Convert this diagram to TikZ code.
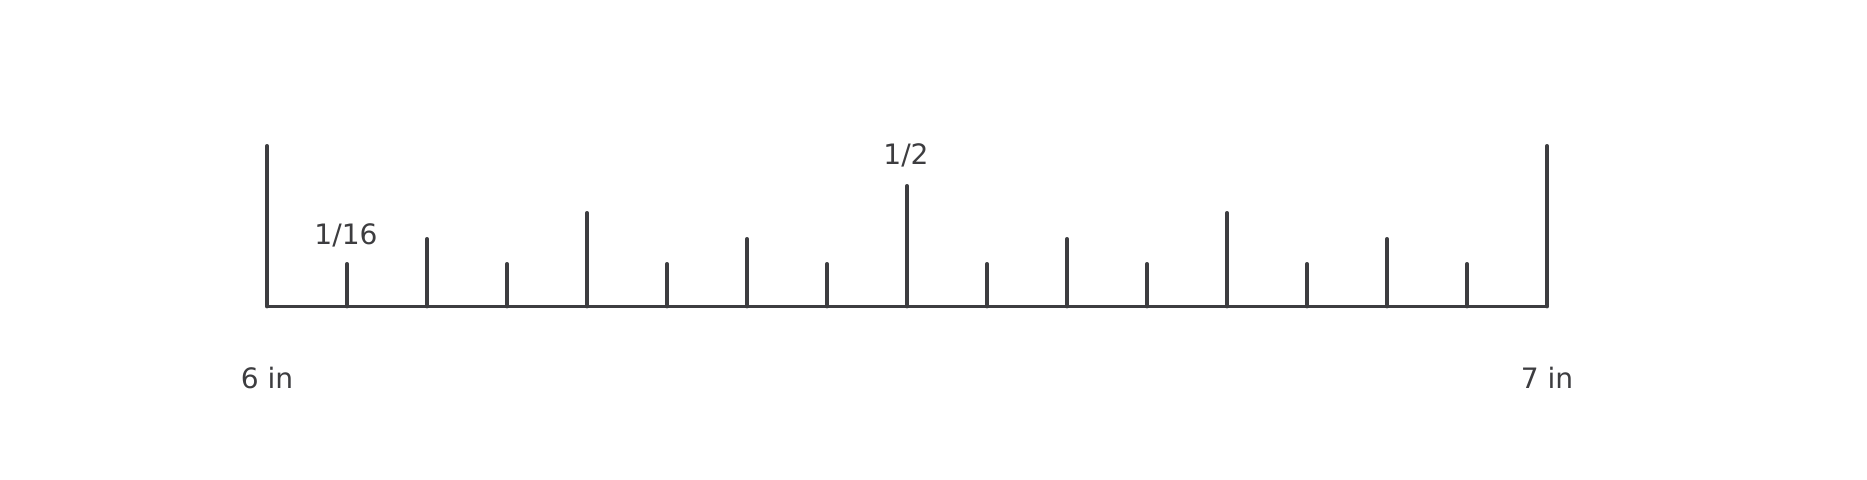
\documentclass[tikz,border=0pt]{standalone}
\usepackage{xcolor}
\usepackage{fontspec}
\usepackage{tikz}

\setmainfont{DejaVu Sans}
\definecolor{rulergray}{HTML}{3D3D40}

\begin{document}
\begin{tikzpicture}[
    x=0.02cm, y=-0.02cm,
    tick/.style={draw=rulergray, line width=1.9pt, line cap=round},
    label/.style={text=rulergray, font=\fontsize{16}{19}\selectfont}
]
    \useasboundingbox (0,0) rectangle (1867,480);

    \coordinate (start) at (267,306.7);
    \coordinate (end) at (1547,306.7);

    % baseline of the ruler
    \draw[tick] (start) -- (end);

    % tick marks, one per sixteenth
    \foreach \i/\h in {0/161,1/43,2/68,3/43,4/94,5/43,6/68,7/43,8/121,
                       9/43,10/68,11/43,12/94,13/43,14/68,15/43,16/161}
        \draw[tick] (267+\i*80,306.7) -- ++(0,-\h);

    \node[label] (sixteenth) at (346,235) {1/16};
    \node[label] (half) at (906,155) {1/2};
    \node[label] (six) at (267,378) {6 in};
    \node[label] (seven) at (1547,378) {7 in};
\end{tikzpicture}
\end{document}
